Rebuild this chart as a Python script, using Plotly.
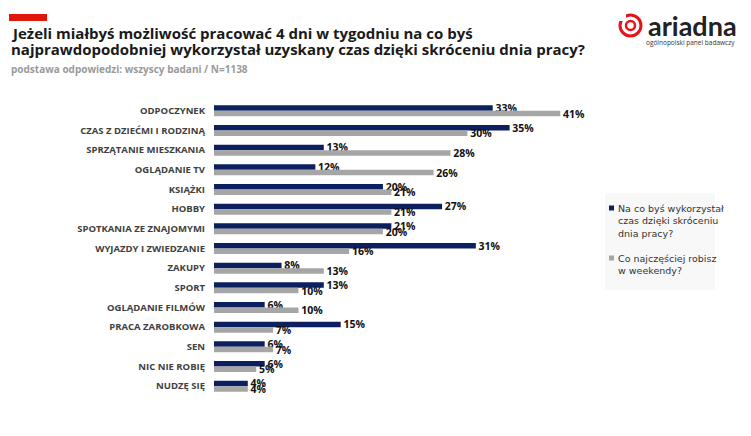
import plotly.graph_objects as go

categories = ["ODPOCZYNEK", "CZAS Z DZIEĆMI I RODZINĄ", "SPRZĄTANIE MIESZKANIA", "OGLĄDANIE TV",
              "KSIĄŻKI", "HOBBY", "SPOTKANIA ZE ZNAJOMYMI", "WYJAZDY I ZWIEDZANIE", "ZAKUPY",
              "SPORT", "OGLĄDANIE FILMÓW", "PRACA ZAROBKOWA", "SEN", "NIC NIE ROBIĘ", "NUDZĘ SIĘ"]
shortened_week = [33, 35, 13, 12, 20, 27, 21, 31, 8, 13, 6, 15, 6, 6, 4]
weekends = [41, 30, 28, 26, 21, 21, 20, 16, 13, 10, 10, 7, 7, 5, 4]
series_names = ["Na co byś wykorzystał<br>czas dzięki skróceniu<br>dnia pracy?",
                "Co najczęściej robisz<br>w weekendy?"]
title_lines = ["Jeżeli miałbyś możliwość pracować 4 dni w tygodniu na co byś",
               "najprawdopodobniej wykorzystał uzyskany czas dzięki skróceniu dnia pracy?"]

NAVY = "#0c1f5f"
GRAY = "#a6a6a6"
COLORS = [NAVY, GRAY]

L, R, T, B = 214, 151, 101, 40
PW, PH = 751 - L - R, 436 - T - B


def px(x):
    return (x - L) / PW


def py(y):
    return (436 - B - y) / PH


fig = go.Figure()
for vals, name, col in zip([shortened_week, weekends], series_names, COLORS):
    fig.add_trace(go.Bar(
        y=categories, x=vals, orientation="h", name=name, showlegend=False,
        marker=dict(color=col, line=dict(width=0)),
        text=[f" {v}%" for v in vals], textposition="outside",
        textfont=dict(family="Open Sans", size=10.5, color="#111111", weight="bold"),
        cliponaxis=False, constraintext="none",
    ))

fig.update_layout(
    width=751, height=436,
    margin=dict(l=L, r=R, t=T, b=B, autoexpand=False),
    paper_bgcolor="white", plot_bgcolor="white",
    barmode="group", bargap=0.44, bargroupgap=0.0,
    font=dict(family="Open Sans", color="#333333"),
    xaxis=dict(range=[0, 45.7], visible=False, fixedrange=True),
    yaxis=dict(autorange="reversed", showgrid=False, zeroline=False, showline=False,
               ticks="", ticklabelstandoff=8,
               tickfont=dict(family="Open Sans", size=9.5, color="#404040", weight="bold")),
    showlegend=False,
)

# legend (drawn manually)
fig.add_shape(type="rect", xref="paper", yref="paper",
              x0=px(605), x1=px(715), y0=py(290), y1=py(193),
              fillcolor="#f8f8f8", line=dict(width=0), layer="below")
legend_tops = [202, 252]
for name, col, top in zip(series_names, COLORS, legend_tops):
    fig.add_shape(type="rect", xref="paper", yref="paper",
                  x0=px(609), x1=px(614), y0=py(top + 8.5), y1=py(top + 3.5),
                  fillcolor=col, line=dict(width=0))
    fig.add_annotation(xref="paper", yref="paper", x=px(616), y=py(top - 1),
                       xanchor="left", yanchor="top", align="left", showarrow=False,
                       text=name, font=dict(family="DejaVu Sans", size=9.5, color="#333333"))

# red accent bar
fig.add_shape(type="rect", xref="paper", yref="paper",
              x0=px(9), x1=px(47), y0=py(21), y1=py(14),
              fillcolor="#e0180c", line=dict(width=0))

for line, yc in zip(title_lines, [33, 49]):
    fig.add_annotation(xref="paper", yref="paper", x=px(9), y=py(yc),
                       xanchor="left", yanchor="middle", align="left", showarrow=False,
                       text=f"<b>{line}</b>",
                       font=dict(family="Open Sans", size=15, color="#1a1a1a"))
fig.add_annotation(xref="paper", yref="paper", x=px(9), y=py(69),
                   xanchor="left", yanchor="middle", align="left", showarrow=False,
                   text="<b>podstawa odpowiedzi: wszyscy badani / N=1138</b>",
                   font=dict(family="Open Sans", size=10, color="#9a9a9a"))

# logo
fig.add_shape(type="circle", xref="paper", yref="paper",
              x0=px(620), x1=px(641), y0=py(36), y1=py(15),
              line=dict(color="#e3141b", width=3))
fig.add_shape(type="circle", xref="paper", yref="paper",
              x0=px(626), x1=px(635), y0=py(30), y1=py(21),
              line=dict(color="#e3141b", width=2.5))
fig.add_shape(type="rect", xref="paper", yref="paper",
              x0=px(618), x1=px(626), y0=py(21), y1=py(13),
              fillcolor="white", line=dict(width=0))
fig.add_annotation(xref="paper", yref="paper", x=px(739), y=py(25),
                   xanchor="right", yanchor="middle", showarrow=False,
                   text="<b>ariadna</b>",
                   font=dict(family="Lato", size=27, color="#222222"))
fig.add_annotation(xref="paper", yref="paper", x=px(737), y=py(42),
                   xanchor="right", yanchor="middle", showarrow=False,
                   text="ogólnopolski panel badawczy",
                   font=dict(family="Open Sans", size=6.5, color="#333333"))

fig.write_html("out.html")
